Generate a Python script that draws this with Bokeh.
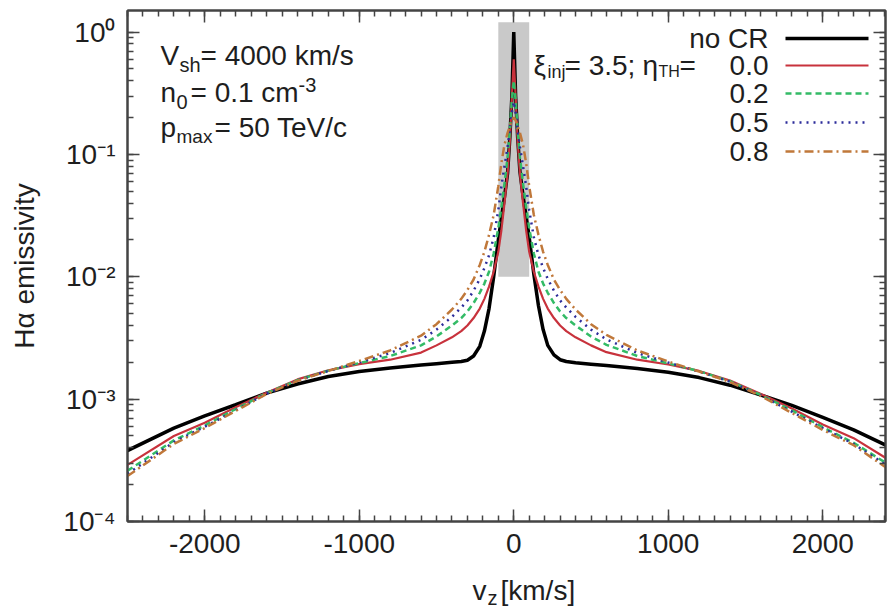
import math
from bokeh.plotting import figure
from bokeh.layouts import column
from bokeh.models import (LinearAxis, LogAxis, Range1d, Label, CustomJSTickFormatter,
                          SingleIntervalTicker, LogTicker)
from bokeh.core.properties import value
from bokeh.embed import file_html
from bokeh.resources import INLINE

# ---------------- data ----------------
vz = [-2500, -2200, -2000, -1800, -1600, -1400, -1200, -1000, -800, -600, -500, -400,
      -340, -300, -260, -220, -190, -160, -130, -100, -80, -60, -40, -25, -12, 0,
      12, 25, 40, 60, 80, 100, 130, 160, 190, 220, 260, 300, 340, 400, 500, 600,
      800, 1000, 1200, 1400, 1600, 1800, 2000, 2200, 2500]

h_nocr = [3.8e-4, 5.8e-4, 7.3e-4, 9.0e-4, 1.12e-3, 1.33e-3, 1.53e-3, 1.68e-3, 1.80e-3, 1.90e-3, 1.95e-3, 2.00e-3,
          2.03e-3, 2.08e-3, 2.25e-3, 2.7e-3, 3.6e-3, 5.5e-3, 0.0100, 0.020, 0.030, 0.045, 0.070, 0.14, 0.30, 1.0,
          0.30, 0.14, 0.072, 0.046, 0.031, 0.021, 0.0105, 5.8e-3, 3.7e-3, 2.75e-3, 2.3e-3, 2.1e-3, 2.03e-3, 1.98e-3, 1.93e-3, 1.88e-3,
          1.78e-3, 1.66e-3, 1.50e-3, 1.30e-3, 1.08e-3, 8.9e-4, 7.1e-4, 5.6e-4, 3.7e-4]

h_eta00 = [2.9e-4, 5.0e-4, 6.4e-4, 8.6e-4, 1.13e-3, 1.45e-3, 1.72e-3, 1.93e-3, 2.10e-3, 2.40e-3, 2.75e-3, 3.2e-3,
           3.6e-3, 4.0e-3, 4.6e-3, 5.5e-3, 6.6e-3, 8.3e-3, 0.011, 0.016, 0.024, 0.040, 0.070, 0.13, 0.30, 0.60,
           0.30, 0.13, 0.070, 0.040, 0.024, 0.016, 0.011, 8.3e-3, 6.6e-3, 5.5e-3, 4.6e-3, 4.0e-3, 3.6e-3, 3.2e-3, 2.75e-3, 2.42e-3,
           2.10e-3, 1.92e-3, 1.70e-3, 1.42e-3, 1.10e-3, 8.4e-4, 6.2e-4, 4.8e-4, 2.8e-4]

h_eta02 = [2.6e-4, 4.6e-4, 6.1e-4, 8.3e-4, 1.12e-3, 1.43e-3, 1.71e-3, 1.97e-3, 2.25e-3, 2.75e-3, 3.25e-3, 4.0e-3,
           4.6e-3, 5.2e-3, 6.1e-3, 7.4e-3, 8.8e-3, 0.011, 0.0155, 0.025, 0.037, 0.058, 0.095, 0.16, 0.28, 0.40,
           0.28, 0.16, 0.095, 0.058, 0.037, 0.025, 0.0155, 0.011, 8.8e-3, 7.4e-3, 6.1e-3, 5.2e-3, 4.6e-3, 4.0e-3, 3.25e-3, 2.78e-3,
           2.25e-3, 1.96e-3, 1.69e-3, 1.40e-3, 1.08e-3, 8.1e-4, 5.9e-4, 4.4e-4, 2.55e-4]

h_eta05 = [2.45e-4, 4.45e-4, 5.95e-4, 8.1e-4, 1.11e-3, 1.42e-3, 1.70e-3, 2.0e-3, 2.38e-3, 3.05e-3, 3.7e-3, 4.7e-3,
           5.6e-3, 6.4e-3, 7.7e-3, 9.6e-3, 0.0118, 0.015, 0.021, 0.035, 0.055, 0.080, 0.115, 0.16, 0.22, 0.27,
           0.22, 0.16, 0.115, 0.080, 0.055, 0.035, 0.021, 0.015, 0.0118, 9.6e-3, 7.7e-3, 6.4e-3, 5.6e-3, 4.7e-3, 3.7e-3, 3.08e-3,
           2.38e-3, 1.99e-3, 1.68e-3, 1.39e-3, 1.07e-3, 7.9e-4, 5.8e-4, 4.3e-4, 2.45e-4]

h_eta08 = [2.35e-4, 4.3e-4, 5.8e-4, 8.0e-4, 1.10e-3, 1.41e-3, 1.70e-3, 2.05e-3, 2.5e-3, 3.3e-3, 4.1e-3, 5.4e-3,
           6.6e-3, 7.8e-3, 9.5e-3, 0.0125, 0.016, 0.022, 0.032, 0.055, 0.085, 0.12, 0.15, 0.17, 0.19, 0.20,
           0.19, 0.17, 0.15, 0.12, 0.085, 0.055, 0.032, 0.022, 0.016, 0.0125, 9.5e-3, 7.8e-3, 6.6e-3, 5.4e-3, 4.1e-3, 3.35e-3,
           2.5e-3, 2.03e-3, 1.68e-3, 1.38e-3, 1.06e-3, 7.7e-4, 5.6e-4, 4.2e-4, 2.3e-4]

legend_labels = ["no CR", "0.0", "0.2", "0.5", "0.8"]
band_vz = [-100, 100]
band_h = [0.01, 1.2]
x_major = 1000
x_lim = [-2500, 2406]
y_lim = [1e-4, 1.5]

# ---------------- layout (Bokeh's page template has no body margin) ----------------
W, H, H2 = 895, 571, 38
BL, BR, BT, BB = 127, 10, 10, 50
FL, FR, FT, FB = BL, W - BR, BT, H - BB   # frame in page px

FONT = "Liberation Sans"
TXT = "#1e1e1e"
AX = "#444444"

def xd(px):
    return x_lim[0] + (px - FL) / (FR - FL) * (x_lim[1] - x_lim[0])

def yd(py):
    l0, l1 = math.log10(y_lim[0]), math.log10(y_lim[1])
    return 10 ** (l0 + (FB - py) / (FB - FT) * (l1 - l0))

xr = Range1d(*x_lim)
p = figure(width=W, height=H, output_backend="svg", toolbar_location=None, title=None,
           x_range=xr, y_range=Range1d(*y_lim), y_axis_type="log",
           min_border_left=BL, min_border_right=BR, min_border_top=BT, min_border_bottom=BB)
p.xgrid.visible = False
p.ygrid.visible = False
p.outline_line_color = AX
p.outline_line_width = 2
p.background_fill_color = "white"
p.border_fill_color = "white"

xt = SingleIntervalTicker(interval=x_major, num_minor_ticks=10)
yt = LogTicker(num_minor_ticks=10)
bottom = p.below[0]
left = p.left[0]
bottom.ticker = xt
left.ticker = yt
bottom.formatter = CustomJSTickFormatter(code="return tick.toFixed(0);")
left.formatter = CustomJSTickFormatter(code="""
const sup = {"-": "\u207b", "0": "\u2070", "1": "\u00b9", "2": "\u00b2", "3": "\u00b3", "4": "\u2074"};
const e = Math.round(Math.log10(tick));
return "10" + String(e).split("").map(c => sup[c]).join("");
""")

top = LinearAxis(ticker=xt)
right = LogAxis(ticker=yt)
p.add_layout(top, "above")
p.add_layout(right, "right")

for ax in [bottom, left, top, right]:
    ax.major_tick_in = 12
    ax.major_tick_out = 0
    ax.minor_tick_in = 6
    ax.minor_tick_out = 0
    ax.major_tick_line_color = AX
    ax.minor_tick_line_color = AX
    ax.major_tick_line_width = 1.5
    ax.minor_tick_line_width = 1.5
    ax.axis_line_color = AX
    ax.axis_line_width = 2
    ax.major_label_text_font = FONT
    ax.major_label_text_font_size = "28px"
    ax.major_label_text_color = TXT
    ax.axis_label_text_font = FONT
    ax.axis_label_text_font_style = "normal"
    ax.axis_label_text_color = TXT

for ax in [top, right]:
    ax.major_label_text_font_size = "0px"
    ax.major_label_standoff = 0
    ax.formatter = CustomJSTickFormatter(code="return '';")

bottom.major_label_standoff = 12
left.major_label_standoff = 12
left.axis_label = "H\u03b1 emissivity"
left.axis_label_text_font_size = "28px"
left.axis_label_standoff = 20

# grey band of the narrow component
p.quad(left=[band_vz[0]], right=[band_vz[1]], bottom=[band_h[0]], top=[band_h[1]],
       fill_color="#c9c9c9", line_color=None)

styles = [
    (h_nocr, "#000000", 3.5, "solid"),
    (h_eta00, "#c8323c", 2.2, "solid"),
    (h_eta02, "#33bb66", 2.5, "6 4"),
    (h_eta05, "#2c2c9a", 2.5, "2 5"),
    (h_eta08, "#c0783a", 2.5, "9 4 2 4"),
]
for ys, col, lw, dash in styles:
    p.line(vz, ys, line_color=col, line_width=lw, line_dash=dash)

# ---------------- texts (positions in page px, vertically centred) ----------------
def lab(text, px, py, size=28, align="left"):
    p.add_layout(Label(x=xd(px), y=yd(py), text=text, text_font=FONT,
                       text_font_size=f"{size}px", text_color=TXT,
                       text_align=align, text_baseline="middle"))

# parameters block
lab("V", 160, 55); lab("sh", 179, 64, 20); lab("= 4000 km/s", 200, 55)
lab("n", 160, 92); lab("0", 176, 101, 20); lab("= 0.1 cm", 190, 92); lab("-3", 298, 84, 20)
lab("p", 160, 127); lab("max", 176, 136, 19); lab("= 50 TeV/c", 214, 127)

# legend
rows = [38, 65, 93, 122, 151]
for (ys, col, lw, dash), name, r in zip(styles, legend_labels, rows):
    lab(name, 768, r, 28, align="right")
    p.line([xd(785), xd(868)], [yd(r), yd(r)], line_color=col, line_width=lw, line_dash=dash)
lab("\u03be", 533, 65); lab("inj", 547, 71, 18)
lab("= 3.5;", 564, 65)
lab("\u03b7", 642, 65); lab("TH", 658, 71, 16)
lab("=", 679, 65)

# x axis title: a strip below the plot, y measured in pixels from the strip's top
p2 = figure(width=W, height=H2, output_backend="svg", toolbar_location=None, title=None,
            x_range=xr, y_range=Range1d(H2, 0),
            min_border_left=BL, min_border_right=BR, min_border_top=0, min_border_bottom=0,
            x_axis_location=None, y_axis_location=None)
p2.outline_line_color = None
p2.xgrid.visible = False
p2.ygrid.visible = False
p2.background_fill_color = "white"
p2.border_fill_color = "white"
for t, px, dy, sz in [("v", 472, 19, 28), ("z", 487, 26, 20), ("[km/s]", 500, 19, 28)]:
    p2.text(x=[xd(px)], y=[dy], text=[t], text_font=value(FONT),
            text_font_size=value(f"{sz}px"), text_color=TXT, text_baseline="middle")

layout = column(p, p2, spacing=0)
open("out.html", "w").write(file_html(layout, INLINE))
